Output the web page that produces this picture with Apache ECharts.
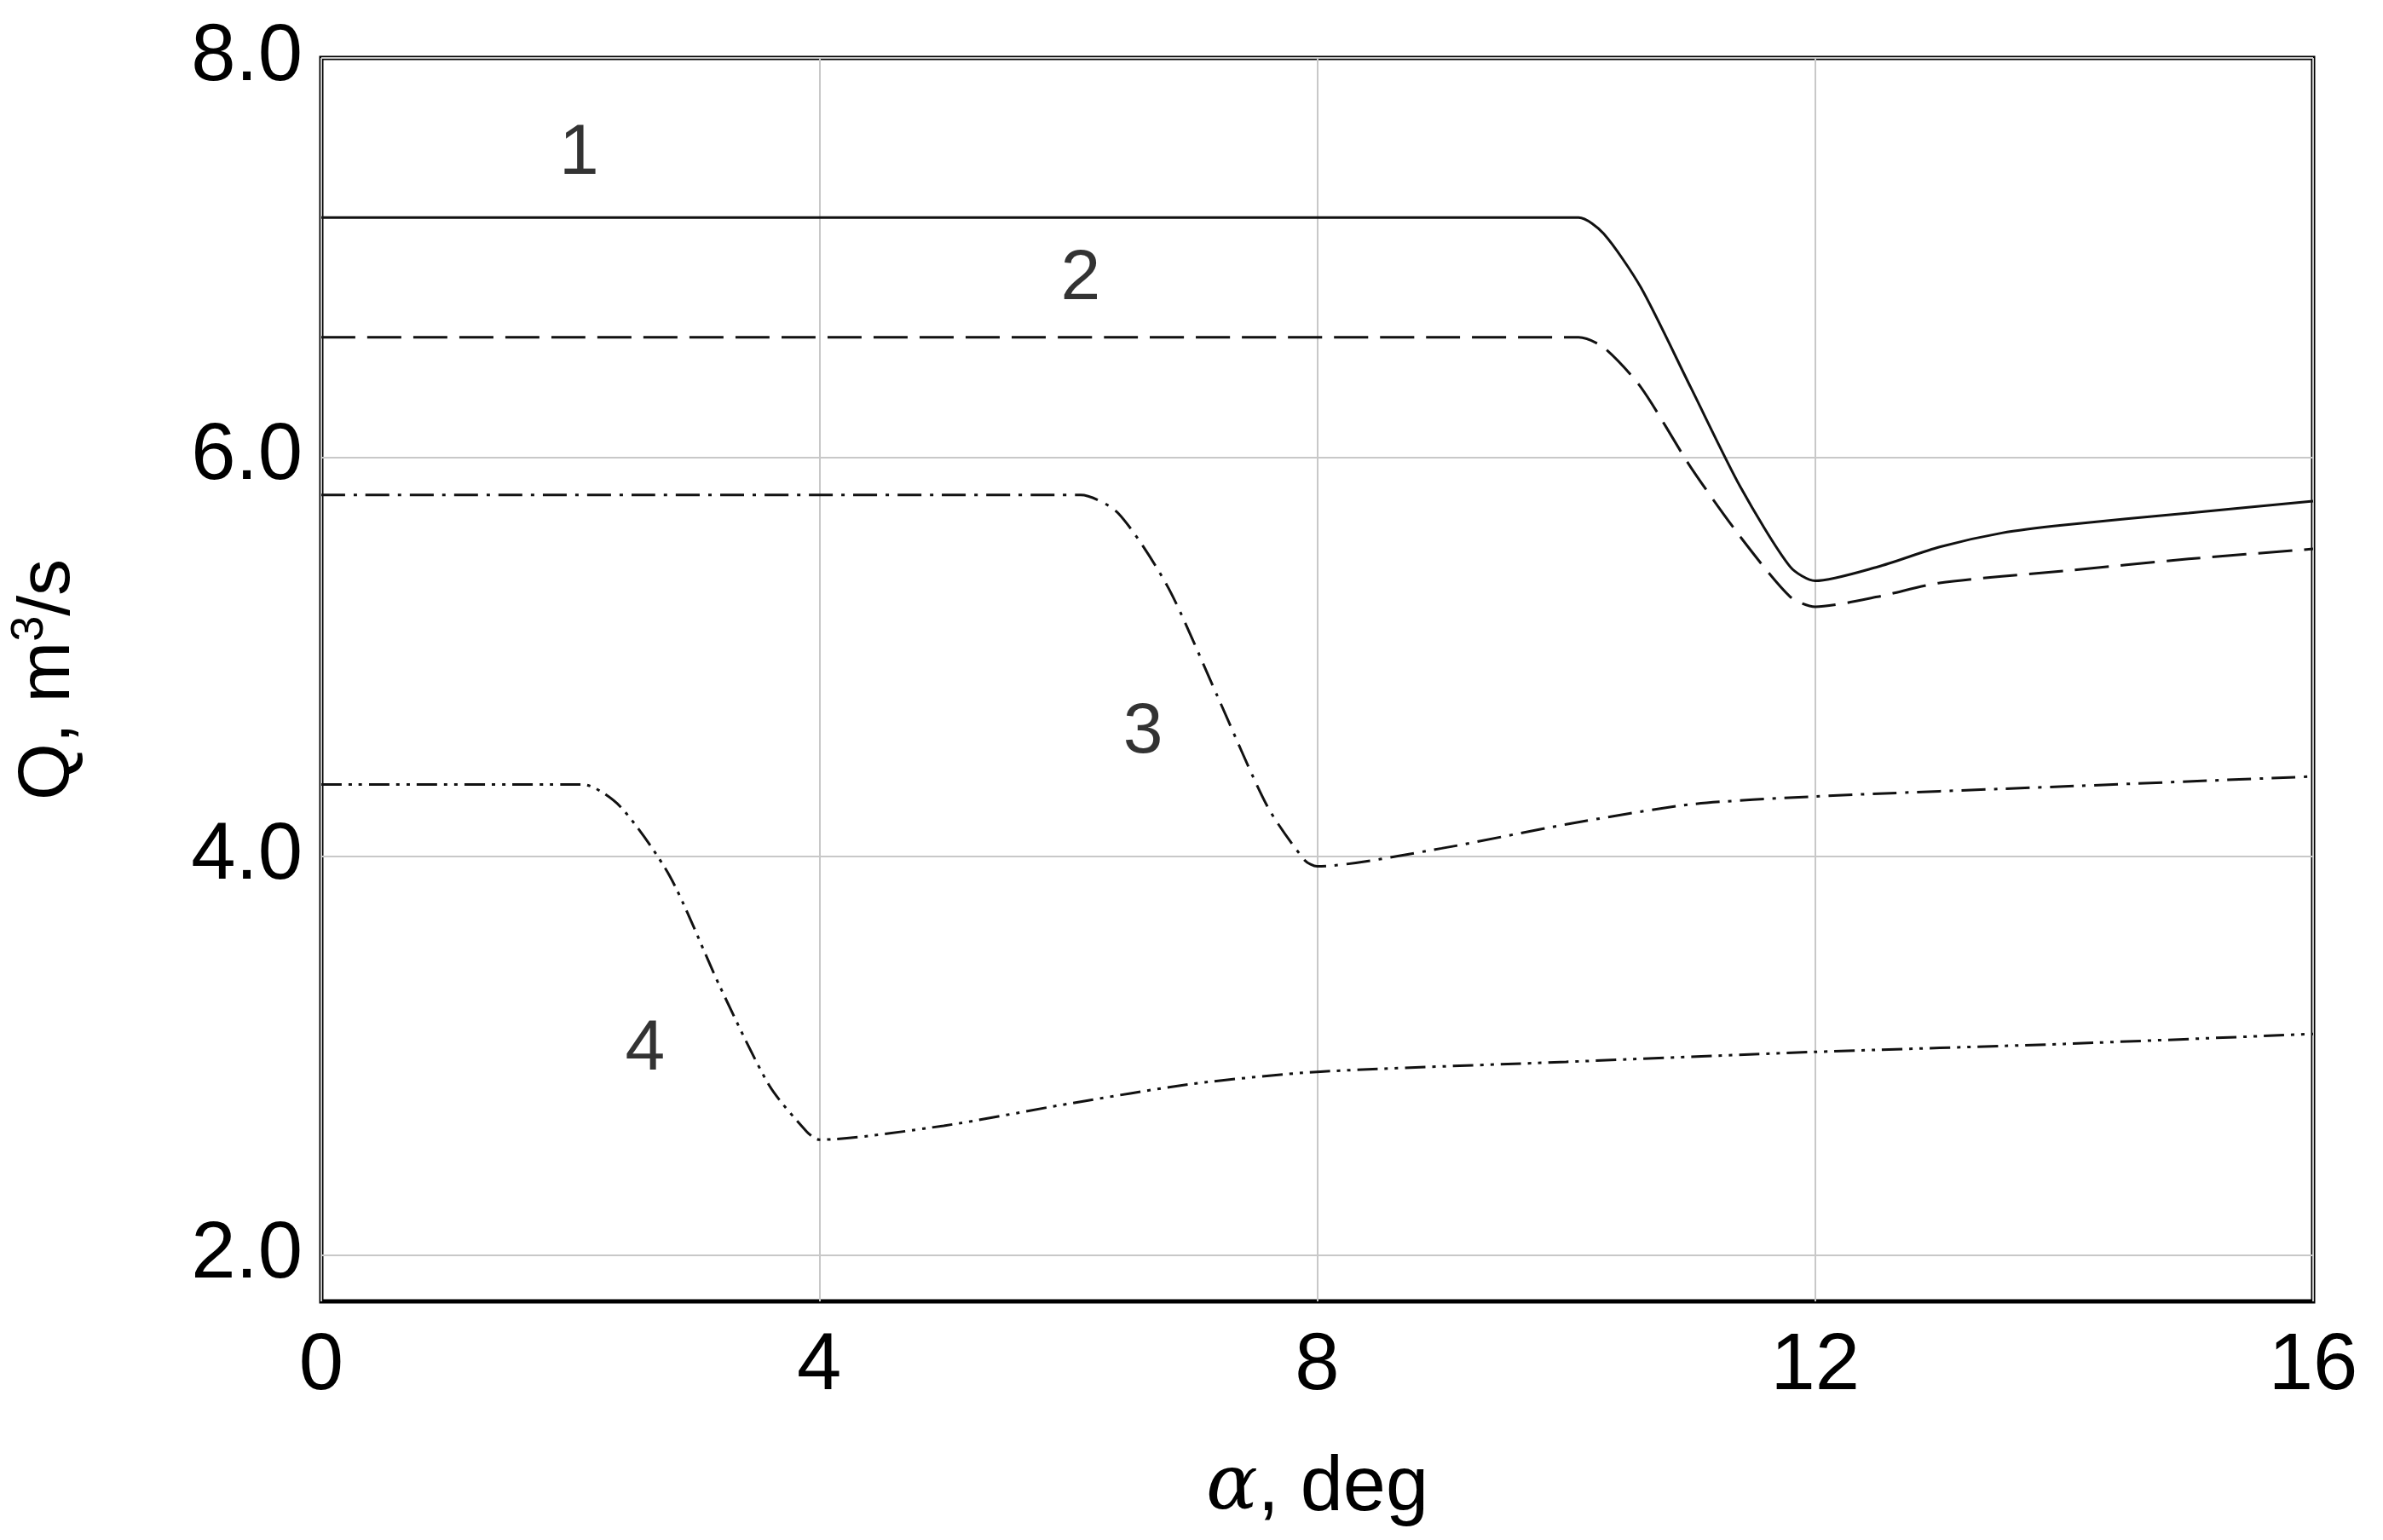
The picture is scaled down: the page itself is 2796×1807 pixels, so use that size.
<!DOCTYPE html>
<html>
<head>
<meta charset="utf-8">
<script src="https://cdn.jsdelivr.net/npm/echarts@6/dist/echarts.min.js"></script>
<style>html,body{margin:0;padding:0;background:#fff}#chart{width:2796px;height:1807px}</style>
</head>
<body>
<div id="chart"></div>
<script>
// curve 1 (solid)
const q1 = [[0, 7.2], [10.1, 7.2], [10.3, 7.12], [10.6, 6.85], [11, 6.35], [11.4, 5.85], [11.8, 5.45], [12, 5.38], [12.5, 5.45], [13, 5.55], [13.5, 5.62], [14, 5.66], [15, 5.72], [16, 5.78]];
// curve 2 (dashed)
const q2 = [[0, 6.6], [10.1, 6.6], [10.3, 6.55], [10.6, 6.35], [11, 5.95], [11.4, 5.6], [11.8, 5.3], [12, 5.25], [12.5, 5.3], [13, 5.37], [14, 5.43], [15, 5.49], [16, 5.54]];
// curve 3 (dash-dot)
const q3 = [[0, 5.81], [6.1, 5.81], [6.4, 5.72], [6.8, 5.35], [7.2, 4.8], [7.6, 4.25], [7.9, 3.98], [8, 3.95], [9, 4.04], [10, 4.16], [11, 4.26], [12, 4.3], [14, 4.35], [16, 4.4]];
// curve 4 (dash-dot-dot)
const q4 = [[0, 4.36], [2.1, 4.36], [2.4, 4.25], [2.8, 3.9], [3.2, 3.35], [3.6, 2.85], [3.9, 2.62], [4, 2.58], [5, 2.65], [6, 2.76], [7, 2.86], [8, 2.92], [10, 2.97], [12, 3.02], [14, 3.06], [16, 3.11]];
const curveLabels = [['1', 2.07, 7.52], ['2', 6.1, 6.89], ['3', 6.6, 4.62], ['4', 2.6, 3.03]];
const yTicks = [2, 4, 6, 8];

const chart = echarts.init(document.getElementById('chart'));
const lineSeries = (data, type) => ({
    type: 'line', data: data, showSymbol: false, smooth: 0.25,
    lineStyle: { color: '#111', width: 3, type: type }
});
chart.setOption({
    animation: false,
    grid: { left: 371, right: 82, top: 68, bottom: 280, show: true, borderColor: '#000', borderWidth: 5 },
    xAxis: {
        type: 'value', min: 0, max: 16, interval: 4,
        name: '{a|α}, deg', nameLocation: 'middle', nameGap: 175,
        nameTextStyle: { fontSize: 90, color: '#000', fontFamily: 'Liberation Sans',
            rich: { a: { fontSize: 90, fontStyle: 'italic', fontFamily: 'DejaVu Serif', color: '#000' } } },
        axisLine: { show: false }, axisTick: { show: false },
        axisLabel: { fontSize: 94, color: '#000', fontFamily: 'Liberation Sans', margin: 30 },
        splitLine: { lineStyle: { color: '#c8c8c8', width: 2 } }
    },
    yAxis: {
        type: 'value', min: 1.77, max: 8.0,
        name: 'Q, m{s|3}/s', nameLocation: 'middle', nameGap: 270, nameRotate: 90,
        nameTextStyle: { fontSize: 86, color: '#000', fontFamily: 'Liberation Sans',
            rich: { s: { fontSize: 54, verticalAlign: 'top', padding: [0, 0, 45, 0], color: '#000' } } },
        axisLine: { show: false }, axisTick: { show: false, customValues: yTicks },
        axisLabel: { fontSize: 94, color: '#000', fontFamily: 'Liberation Sans', margin: 22,
            customValues: yTicks, formatter: v => v.toFixed(1) },
        splitLine: { lineStyle: { color: '#c8c8c8', width: 2 } }
    },
    series: [
        lineSeries(q1, 'solid'),
        lineSeries(q2, [40, 14]),
        lineSeries(q3, [28, 10, 4, 10]),
        lineSeries(q4, [24, 8, 4, 8, 4, 8]),
        {
            type: 'scatter', symbolSize: 0,
            data: curveLabels.map(d => ({ value: [d[1], d[2]], name: d[0] })),
            label: { show: true, formatter: '{b}', position: 'inside', fontSize: 84, color: '#000', fontFamily: 'Liberation Sans' }
        }
    ]
});
</script>
</body>
</html>
